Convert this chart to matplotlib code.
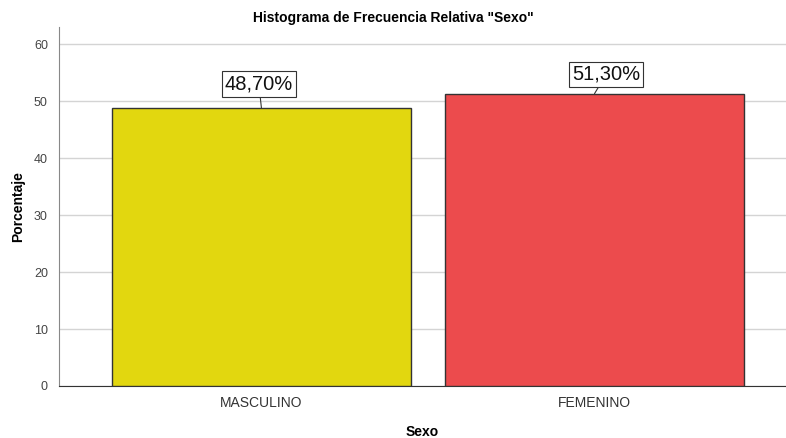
import matplotlib
matplotlib.use("Agg")
import matplotlib.pyplot as plt

categories = ["MASCULINO", "FEMENINO"]
values = [48.70, 51.30]
labels = ["48,70%", "51,30%"]
colors = ["#E2D70F", "#EC4B4D"]
yticks = [0, 10, 20, 30, 40, 50, 60]
label_dx = [-0.008, 0.035]
label_dy = [4.3, 3.4]

plt.rcParams['font.family'] = ['Liberation Sans', 'DejaVu Sans']

fig = plt.figure(figsize=(7.86, 4.38), dpi=100)
ax = fig.add_axes([59/786, 52/438, 1 - 59/786, (386-27)/438])

x = list(range(len(categories)))
ax.bar(x, values, width=0.898, color=colors, edgecolor="#333333", linewidth=1.0, zorder=3)
ax.set_xlim(-0.608, 1.575)
ax.set_ylim(0, 63)
ax.set_yticks(yticks)
ax.grid(axis='y', color="#d4d4d4", linewidth=1.0, zorder=0)
ax.set_xticks(x)
ax.set_xticklabels(categories, fontsize=10, color="#333333")
ax.tick_params(axis='y', length=0, pad=8, labelsize=9, labelcolor="#444444")
ax.tick_params(axis='x', length=0, pad=7)
for s in ['top', 'right']:
    ax.spines[s].set_visible(False)
ax.spines['left'].set_color("#888888")
ax.spines['bottom'].set_color("#333333")

ax.set_ylabel("Porcentaje", fontsize=10, fontweight='bold')
ax.yaxis.set_label_coords(-0.046, 0.5)
ax.set_xlabel("Sexo", fontsize=10, fontweight='bold', labelpad=11)
fig.suptitle('Histograma de Frecuencia Relativa "Sexo"', fontsize=10, fontweight='bold', y=0.975)

for xi, v, lab, dx, dy in zip(x, values, labels, label_dx, label_dy):
    ax.annotate(lab, xy=(xi, v), xytext=(xi + dx, v + dy),
                ha='center', va='center', fontsize=14.5, color="#111111",
                bbox=dict(boxstyle='square,pad=0.15', fc='white', ec='#333333', lw=0.8),
                arrowprops=dict(arrowstyle='-', color='#333333', lw=0.8, shrinkA=0, shrinkB=0),
                zorder=5)

fig.savefig("out.png", dpi=100)
